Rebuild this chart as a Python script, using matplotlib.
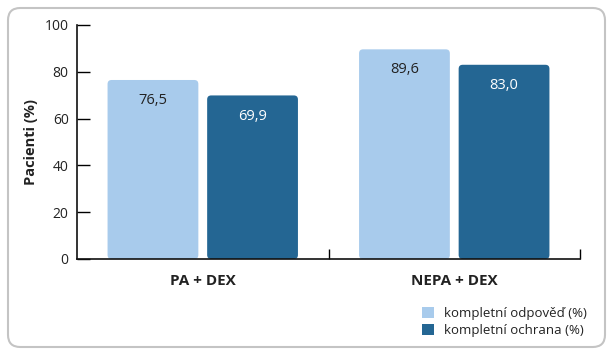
import matplotlib.pyplot as plt
from matplotlib.patches import FancyBboxPatch, Patch
import numpy as np

# Data
kategorie = ["PA + DEX", "NEPA + DEX"]
odpoved = [76.5, 89.6]   # kompletní odpověď (%)
ochrana = [69.9, 83.0]   # kompletní ochrana (%)
serie = ["kompletní odpověď (%)", "kompletní ochrana (%)"]
yticks = [0, 20, 40, 60, 80, 100]

barvy = ["#a8cbec", "#246693"]
barvy_textu = ["#222222", "white"]

plt.rcParams['font.family'] = ['Open Sans', 'DejaVu Sans']

fig = plt.figure(figsize=(6.13, 3.55), dpi=100)
ax = fig.add_axes([77 / 613, 1 - 259 / 355, 503 / 613, 234 / 355])

# rounded frame around the figure
frame = FancyBboxPatch((8 / 613, 8 / 355), 597 / 613, 339 / 355,
                       boxstyle="round,pad=0,rounding_size=0.02",
                       transform=fig.transFigure, facecolor="none",
                       edgecolor="#c4c4c4", linewidth=1.5, mutation_aspect=613 / 355)
fig.patches.append(frame)

x = np.arange(len(kategorie))
w = 0.361
offs = [-0.198, 0.198]
for hodnoty, off, barva, tbarva in zip([odpoved, ochrana], offs, barvy, barvy_textu):
    bars = ax.bar(x + off, hodnoty, width=w, color=barva)
    for b, v in zip(bars, hodnoty):
        b.set_visible(False)
        # rounded version of each bar
        p = FancyBboxPatch((b.get_x(), 0), b.get_width(), b.get_height(),
                           boxstyle="round,pad=0,rounding_size=0.016",
                           mutation_aspect=107.7, facecolor=barva, edgecolor="none")
        ax.add_patch(p)
        ax.text(b.get_x() + b.get_width() / 2, v - 8.8, f"{v:.1f}".replace(".", ","),
                ha="center", va="center", fontsize=10.5, color=tbarva)

ax.set_xlim(-0.5, 1.5)
ax.set_ylim(0, 100)
ax.set_yticks(yticks)
ax.tick_params(axis="y", direction="in", length=9, width=1, labelsize=10,
               labelcolor="#222222", pad=6)
ax.set_xticks([0.5, 1.5])
ax.set_xticklabels([])
ax.tick_params(axis="x", direction="in", length=7, width=1)
for s in ["top", "right"]:
    ax.spines[s].set_visible(False)
for s in ["left", "bottom"]:
    ax.spines[s].set_linewidth(1.2)
    ax.spines[s].set_color("#111111")

for xi, k in zip(x, kategorie):
    ax.text(xi, -9.5, k, ha="center", va="center", fontsize=11,
            fontweight="bold", color="#222222", transform=ax.transData)

ax.set_ylabel("Pacienti (%)", fontsize=10.5, fontweight="bold", color="#222222", labelpad=5)

handles = [Patch(facecolor=c, edgecolor="none") for c in barvy]
fig.legend(handles, serie, loc="center left", bbox_to_anchor=(410 / 613, 1 - 322 / 355),
           frameon=False, fontsize=9.5, handlelength=0.9, handleheight=0.9,
           handletextpad=0.8, labelspacing=0.25, labelcolor="#222222")

plt.savefig("out.png", dpi=100)
